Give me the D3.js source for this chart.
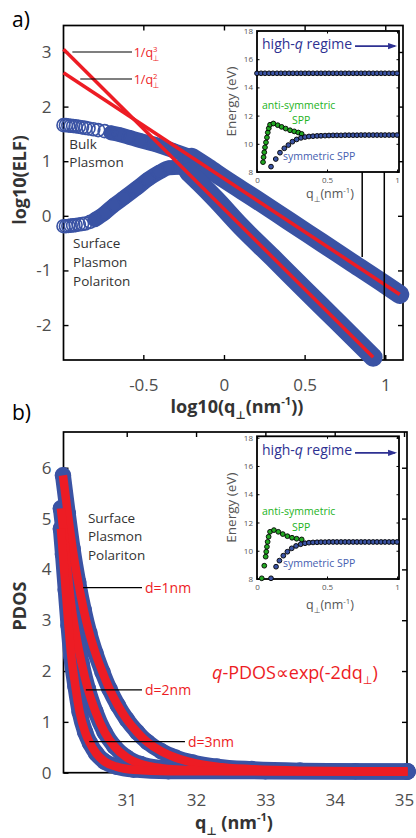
<!DOCTYPE html>
<html lang="en">
<head>
<meta charset="UTF-8">
<title>ELF and PDOS</title>
<style>
  body { margin: 0; background: #fff; }
  svg { display: block; font-family: "Open Sans", "Noto Sans", "DejaVu Sans", sans-serif; }
</style>
</head>
<body>
<svg id="chart" width="416" height="838"></svg>
<script src="https://cdn.jsdelivr.net/npm/d3@7"></script>
<script>
// ---------- panel a) : log10(ELF) vs log10(q)
const elfXTicks = [-0.5, 0, 0.5, 1];
const elfYTicks = [-2, -1, 0, 1, 2, 3];
const bulkElf = [[-0.995,1.66],[-0.98,1.66],[-0.965,1.655],[-0.95,1.65],[-0.935,1.645],[-0.92,1.64],[-0.9,1.63],
  [-0.88,1.62],[-0.86,1.61],[-0.84,1.6],[-0.81,1.585],[-0.78,1.57],[-0.74,1.55],[-0.7,1.52],[-0.65,1.49],
  [-0.59,1.44],[-0.52,1.38],[-0.43,1.31],[-0.31,1.19],[-0.2,1.07],[-0.1,0.88],[0.0,0.68],[0.2,0.3],
  [0.4,-0.09],[0.6,-0.48],[0.8,-0.87],[1.0,-1.26],[1.09,-1.44]];
const sppElf = [[-0.995,-0.19],[-0.98,-0.19],[-0.965,-0.185],[-0.95,-0.18],[-0.935,-0.175],[-0.92,-0.17],
  [-0.9,-0.16],[-0.88,-0.15],[-0.86,-0.14],[-0.83,-0.11],[-0.8,-0.07],[-0.74,0.05],[-0.68,0.2],[-0.62,0.33],
  [-0.54,0.51],[-0.47,0.67],[-0.4,0.8],[-0.34,0.88],[-0.28,0.89],[-0.22,0.8],[-0.15,0.6],[-0.05,0.3],
  [0.1,-0.18],[0.3,-0.76],[0.5,-1.35],[0.7,-1.93],[0.925,-2.59]];
const fitQ3 = [[-0.995,3.05],[0.925,-2.59]];
const fitQ2 = [[-0.995,2.62],[1.09,-1.44]];

// ---------- insets : dispersion E(q)
const insetXTicks = [0, 0.5, 1];
const insetYTicks = [8, 10, 12, 14, 16, 18];
const bulkBand = [[0,15],[0.029,15],[0.057,15],[0.086,15],[0.114,15],[0.143,15],[0.171,15],[0.2,15],[0.229,15],
  [0.257,15],[0.286,15],[0.314,15],[0.343,15],[0.371,15],[0.4,15],[0.429,15],[0.457,15],[0.486,15],[0.514,15],
  [0.543,15],[0.571,15],[0.6,15],[0.629,15],[0.657,15],[0.686,15],[0.714,15],[0.743,15],[0.771,15],[0.8,15],
  [0.829,15],[0.857,15],[0.886,15],[0.914,15],[0.943,15],[0.971,15],[1,15]];
const antiA = [[0.043,8.7],[0.047,9.05],[0.052,9.4],[0.057,9.75],[0.064,10.1],[0.071,10.45],[0.077,10.8],
  [0.084,11.1],[0.093,11.35],[0.117,11.44],[0.148,11.32],[0.176,11.2],[0.205,11.08],[0.236,10.96],
  [0.266,10.88],[0.295,10.8],[0.319,10.7]];
const symA = [[0.1,8.38],[0.134,8.92],[0.164,9.37],[0.195,9.68],[0.224,9.91],[0.253,10.15],[0.283,10.31],
  [0.314,10.42],[0.343,10.48],[0.371,10.52],[0.4,10.54],[0.429,10.56],[0.457,10.57],[0.486,10.58],[0.514,10.59],
  [0.543,10.6],[0.571,10.6],[0.6,10.6],[0.629,10.61],[0.657,10.61],[0.686,10.61],[0.714,10.61],[0.743,10.62],
  [0.771,10.62],[0.8,10.62],[0.829,10.62],[0.857,10.62],[0.886,10.62],[0.914,10.62],[0.943,10.62],
  [0.971,10.62],[1,10.62]];
const antiB = [[0.034,8.05],[0.052,8.94],[0.062,9.58],[0.066,9.93],[0.071,10.28],[0.076,10.63],[0.083,10.99],
  [0.093,11.34],[0.121,11.46],[0.152,11.34],[0.184,11.18],[0.217,11.03],[0.25,10.92],[0.283,10.85],[0.319,10.8]];
const symB = [[0.1,8.05],[0.136,8.87],[0.16,9.3],[0.188,9.65],[0.217,9.93],[0.248,10.17],[0.279,10.34],
  [0.312,10.46],[0.343,10.53],[0.371,10.57],[0.4,10.59],[0.429,10.6],[0.457,10.61],[0.486,10.61],[0.514,10.62],
  [0.543,10.62],[0.571,10.62],[0.6,10.62],[0.629,10.62],[0.657,10.62],[0.686,10.62],[0.714,10.62],[0.743,10.62],
  [0.771,10.62],[0.8,10.62],[0.829,10.62],[0.857,10.62],[0.886,10.62],[0.914,10.62],[0.943,10.62],
  [0.971,10.62],[1,10.62]];

// ---------- panel b) : PDOS vs q
const pdosXTicks = [31, 32, 33, 34, 35];
const pdosYTicks = [0, 1, 2, 3, 4, 5, 6];
const pdosD1 = [[30.08,5.85],[30.15,5.1],[30.22,4.4],[30.3,3.75],[30.38,3.2],[30.46,2.75],[30.55,2.35],
  [30.65,1.98],[30.75,1.65],[30.87,1.33],[31.0,1.05],[31.15,0.8],[31.3,0.6],[31.5,0.42],[31.7,0.3],
  [31.95,0.2],[32.3,0.12],[32.8,0.07],[33.5,0.04],[34.3,0.03],[35.05,0.03]];
const pdosD2 = [[30.05,5.2],[30.1,4.6],[30.15,3.9],[30.2,3.3],[30.27,2.7],[30.35,2.15],[30.44,1.65],
  [30.55,1.2],[30.68,0.8],[30.82,0.52],[31.0,0.3],[31.2,0.17],[31.5,0.09],[32.0,0.05],[33.0,0.03],[35.05,0.02]];
const pdosD3 = [[30.05,4.8],[30.08,4.3],[30.12,3.6],[30.16,2.9],[30.2,2.3],[30.26,1.7],[30.32,1.2],[30.4,0.8],
  [30.47,0.58],[30.56,0.38],[30.68,0.22],[30.85,0.12],[31.1,0.06],[31.6,0.03],[35.05,0.02]];

const BLUE = "#3a53a4", RED = "#ed1c24", GREEN = "#22a822", NAVY = "#2e3192";
const svg = d3.select("#chart");

function rich(sel, parts, size) {
  let cur = 0;
  parts.forEach(p => {
    const off = p.sub ? size * 0.32 : p.sup ? -size * 0.42 : 0;
    const ts = sel.append("tspan").text(p.t).attr("dy", off - cur);
    if (p.sub || p.sup) ts.attr("font-size", size * 0.62);
    if (p.it) ts.attr("font-style", "italic");
    if (p.dx) ts.attr("dx", p.dx);
    cur = off;
  });
  return sel;
}

// box with inward ticks on four sides, labels left and bottom
function frame(g, x, y, xt, yt, o) {
  const [x0, x1] = x.range(), [y0, y1] = y.range();
  g.append("rect").attr("x", x0).attr("y", y1).attr("width", x1 - x0).attr("height", y0 - y1)
    .attr("fill", o.bg || "none").attr("stroke", "#000").attr("stroke-width", o.sw);
  const fmt = d => String(d);
  const axes = [
    [d3.axisLeft(y).tickValues(yt).tickFormat(fmt).tickPadding(o.padY), `translate(${x0},0)`],
    [d3.axisRight(y).tickValues(yt).tickFormat(""), `translate(${x1},0)`],
    [d3.axisBottom(x).tickValues(xt).tickFormat(fmt).tickPadding(o.padX), `translate(0,${y0})`],
    [d3.axisTop(x).tickValues(xt).tickFormat(""), `translate(0,${y1})`]
  ];
  axes.forEach(([ax, tr]) => {
    const a = g.append("g").attr("transform", tr)
      .call(ax.tickSizeInner(-o.tl).tickSizeOuter(0));
    a.select(".domain").remove();
    a.selectAll("line").attr("stroke", "#000").attr("stroke-width", o.tw);
    a.selectAll("text").attr("font-size", o.fs).attr("fill", o.tc)
      .attr("font-family", "Open Sans, sans-serif");
  });
}

function band(g, data, x, y, o) {
  const line = d3.line().x(d => x(d[0])).y(d => y(d[1])).curve(d3.curveMonotoneX);
  g.append("path").attr("d", line(data.filter(d => d[0] >= o.solidFrom)))
    .attr("fill", "none").attr("stroke", BLUE).attr("stroke-width", o.w)
    .attr("stroke-linecap", "round").attr("stroke-linejoin", "round");
  g.selectAll(null).data(data).join("circle")
    .attr("cx", d => x(d[0])).attr("cy", d => y(d[1])).attr("r", o.r)
    .attr("fill", "none").attr("stroke", BLUE).attr("stroke-width", 1.6);
}

function inset(g, x, y, o) {
  frame(g, x, y, insetXTicks, insetYTicks, { bg: "#fff", sw: 1.8, tl: 2.5, tw: 1, padY: 4, padX: 5, fs: 8, tc: "#555" });
  const [x0, x1] = x.range(), [y0, y1] = y.range();
  g.append("text").attr("transform", `translate(${x0 - 21},${(y0 + y1) / 2}) rotate(-90)`)
    .attr("text-anchor", "middle").attr("font-size", 13.5).attr("fill", "#555").text("Energy (eV)");
  rich(g.append("text").attr("x", (x0 + x1) / 2 + 2).attr("y", y0 + o.xlab).attr("text-anchor", "middle")
    .attr("font-size", 12.5).attr("fill", "#555"),
    [{ t: "q" }, { t: "⊥", sub: true }, { t: "(nm" }, { t: "-1", sup: true }, { t: ")" }], 12.5);
  rich(g.append("text").attr("x", x(0.036)).attr("y", y(16.75)).attr("font-size", 14).attr("fill", NAVY),
    [{ t: "high-" }, { t: "q", it: true }, { t: " regime" }], 14);
  g.append("line").attr("x1", x(0.7)).attr("x2", x(0.985)).attr("y1", y(16.93)).attr("y2", y(16.93))
    .attr("stroke", NAVY).attr("stroke-width", 1.6);
  g.append("path").attr("d", `M${x(1.0)},${y(16.93)} l-9,-3.2 l0,6.4 z`).attr("fill", NAVY);
  const dots = (data, fill) => g.append("g").selectAll("circle").data(data).join("circle")
    .attr("cx", d => x(d[0])).attr("cy", d => y(d[1])).attr("r", 2.4)
    .attr("fill", fill).attr("stroke", "#000").attr("stroke-width", 0.9);
  if (o.bulk) dots(o.bulk, BLUE);
  dots(o.anti, GREEN);
  dots(o.sym, BLUE);
  g.append("text").attr("x", x(0.036)).attr("y", y(12.5)).attr("font-size", 10.5).attr("fill", "#1db31d").text("anti-symmetric");
  g.append("text").attr("x", x(0.25)).attr("y", y(11.4)).attr("font-size", 10.5).attr("fill", "#1db31d").text("SPP");
  g.append("text").attr("x", x(0.185)).attr("y", y(8.85)).attr("font-size", 10.5).attr("fill", "#4560b0").text("symmetric SPP");
}

// ================= panel a)
const xA = d3.scaleLinear().domain([-0.995, 1.11]).range([63.5, 403]);
const yA = d3.scaleLinear().domain([-2.64, 3.485]).range([360, 25.5]);
const gA = svg.append("g");
frame(gA, xA, yA, elfXTicks, elfYTicks, { sw: 1.7, tl: 5, tw: 1.4, padY: 12, padX: 19, fs: 17, tc: "#4d4d4d" });
band(gA, bulkElf, xA, yA, { r: 6.5, w: 15, solidFrom: -0.72 });
band(gA, sppElf, xA, yA, { r: 6.5, w: 15, solidFrom: -0.8 });
// thicker right-hand part, where the markers pile up
band(gA, bulkElf.filter(d => d[0] >= -0.2), xA, yA, { r: 0, w: 19, solidFrom: -0.2 });
band(gA, sppElf.filter(d => d[0] >= -0.22), xA, yA, { r: 0, w: 19, solidFrom: -0.22 });
const seg = d3.line().x(d => xA(d[0])).y(d => yA(d[1]));
[fitQ3, fitQ2].forEach(f => gA.append("path").attr("d", seg(f)).attr("stroke", RED)
  .attr("stroke-width", 3.5).attr("fill", "none"));

svg.append("text").attr("x", 12).attr("y", 27).attr("font-size", 21).text("a)");
gA.append("text").attr("transform", "translate(26,180) rotate(-90)").attr("text-anchor", "middle")
  .attr("font-size", 18).attr("font-weight", "bold").attr("fill", "#333").text("log10(ELF)");
rich(gA.append("text").attr("x", 237).attr("y", 413).attr("text-anchor", "middle").attr("font-size", 18)
  .attr("font-weight", "bold").attr("fill", "#333"),
  [{ t: "log10(q" }, { t: "⊥", sub: true }, { t: "(nm" }, { t: "-1", sup: true }, { t: "))" }], 18);

// leaders for the power laws
[[3.0, -0.94, "3"], [2.505, -0.891, "2"]].forEach(([v, from, p]) => {
  gA.append("line").attr("x1", xA(from)).attr("x2", xA(-0.57)).attr("y1", yA(v)).attr("y2", yA(v))
    .attr("stroke", "#000").attr("stroke-width", 1.2);
  rich(gA.append("text").attr("x", xA(-0.56)).attr("y", yA(v) + 5).attr("font-size", 12.5).attr("fill", RED),
    [{ t: "1/q" }, { t: p, sup: true }, { t: "⊥", sub: true, dx: -5 }], 12.5);
});
[["Bulk", 1.223], ["Plasmon", 0.894]].forEach(([t, v]) =>
  gA.append("text").attr("x", xA(-0.959)).attr("y", yA(v)).attr("font-size", 13.5).attr("fill", "#333").text(t));
[["Surface", -0.59], ["Plasmon", -0.938], ["Polariton", -1.286]].forEach(([t, v]) =>
  gA.append("text").attr("x", xA(-0.936)).attr("y", yA(v)).attr("font-size", 13.5).attr("fill", "#333").text(t));

const xIa = d3.scaleLinear().domain([0, 1.014]).range([257, 399]);
const yIa = d3.scaleLinear().domain([8, 18]).range([172, 31]);
inset(svg.append("g"), xIa, yIa, { bulk: bulkBand, anti: antiA, sym: symA, xlab: 26 });

// connectors from the inset to the main curves
gA.append("line").attr("x1", xA(0.857)).attr("x2", xA(0.857)).attr("y1", yIa(15)).attr("y2", yA(-0.755))
  .attr("stroke", "#000").attr("stroke-width", 1.5);
gA.append("line").attr("x1", xA(0.994)).attr("x2", xA(0.994)).attr("y1", yIa(10.62)).attr("y2", yA(-2.64))
  .attr("stroke", "#000").attr("stroke-width", 1.5);

// ================= panel b)
const xB = d3.scaleLinear().domain([30.088, 35.043]).range([63.5, 407]);
const yB = d3.scaleLinear().domain([0, 6.703]).range([772.7, 432]);
const gB = svg.append("g");
frame(gB, xB, yB, pdosXTicks, pdosYTicks, { sw: 1.7, tl: 5, tw: 1.4, padY: 12, padX: 21, fs: 17, tc: "#4d4d4d" });
[pdosD1, pdosD2, pdosD3].forEach(d => band(gB, d, xB, yB, { r: 7.5, w: 16, solidFrom: 30.0 }));
[pdosD1, pdosD2, pdosD3].forEach(d => gB.append("path")
  .attr("d", d3.line().x(p => xB(p[0])).y(p => yB(p[1])).curve(d3.curveMonotoneX)(d))
  .attr("fill", "none").attr("stroke", RED).attr("stroke-width", 8.5));

svg.append("text").attr("x", 12).attr("y", 420).attr("font-size", 21).text("b)");
gB.append("text").attr("transform", "translate(26,606) rotate(-90)").attr("text-anchor", "middle")
  .attr("font-size", 18).attr("font-weight", "bold").attr("fill", "#333").text("PDOS");
rich(gB.append("text").attr("x", 234).attr("y", 829).attr("text-anchor", "middle").attr("font-size", 18)
  .attr("font-weight", "bold").attr("fill", "#333"),
  [{ t: "q" }, { t: "⊥", sub: true }, { t: " (nm" }, { t: "-1", sup: true }, { t: ")" }], 18);

[["Surface", 4.91], ["Plasmon", 4.55], ["Polariton", 4.18]].forEach(([t, v]) =>
  gB.append("text").attr("x", xB(30.44)).attr("y", yB(v)).attr("font-size", 13.5).attr("fill", "#333").text(t));
[[30.37, 3.64, 31.22, "d=1nm"], [30.41, 1.63, 31.22, "d=2nm"], [30.46, 0.61, 31.84, "d=3nm"]].forEach(([a, v, b, t]) => {
  gB.append("line").attr("x1", xB(a)).attr("x2", xB(b)).attr("y1", yB(v)).attr("y2", yB(v))
    .attr("stroke", "#000").attr("stroke-width", 1.2);
  gB.append("text").attr("x", xB(b) + 3).attr("y", yB(v) + 5).attr("font-size", 14).attr("fill", RED).text(t);
});
rich(gB.append("text").attr("x", xB(32.23)).attr("y", yB(1.85)).attr("font-size", 18).attr("fill", RED),
  [{ t: "q", it: true }, { t: "-PDOS\u221Dexp(-2dq" }, { t: "⊥", sub: true }, { t: ")" }], 18);

const xIb = d3.scaleLinear().domain([0, 1.014]).range([257, 399]);
const yIb = d3.scaleLinear().domain([8, 18.1]).range([579, 436.3]);
inset(svg.append("g"), xIb, yIb, { anti: antiB, sym: symB, xlab: 30 });
</script>
</body>
</html>
